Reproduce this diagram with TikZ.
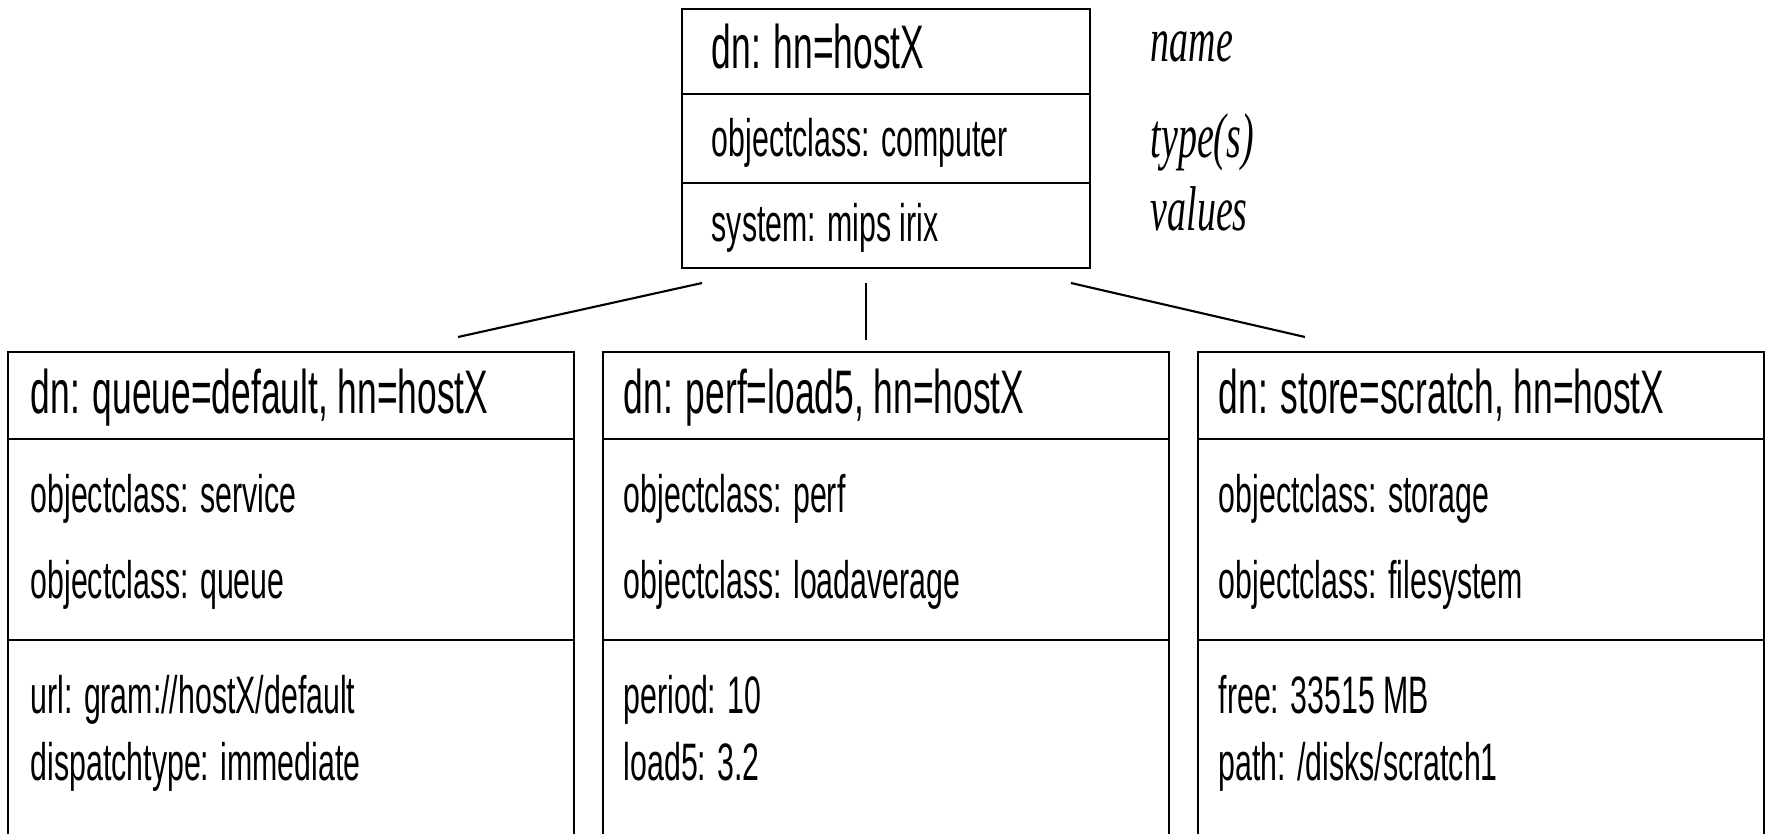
\documentclass[tikz,border=0pt]{standalone}
\usepackage{fontspec}
\usepackage{tikz}
\usetikzlibrary{positioning}
\newfontfamily\entryfont{Liberation Sans}[FakeStretch=0.575]
\newfontfamily\notefont{Liberation Serif}[FakeStretch=0.6]

\begin{document}
\begin{tikzpicture}
      \tikzset{
        cell/.style={rectangle, draw=black, line width=0.6pt, outer sep=0pt, inner sep=0pt, minimum width=5.66cm},
        hostcell/.style={cell, minimum width=4.08cm},
        dnline/.style={anchor=base west, inner sep=0pt, font=\entryfont\fontsize{17.5}{21}\selectfont},
        attrline/.style={anchor=base west, inner sep=0pt, font=\entryfont\fontsize{15}{18}\selectfont},
        note/.style={anchor=base west, inner sep=0pt, font=\notefont\itshape\fontsize{18}{21}\selectfont},
        link/.style={line width=0.6pt}
      }
      \useasboundingbox (0,0) rectangle (17.66,8.33);
      \clip (0,0) rectangle (17.66,8.33);

      % Host entry
      \node[hostcell, minimum height=0.85cm, anchor=north] (host-dn) at (8.86,8.24) {};
      \node[hostcell, minimum height=0.89cm, below=0pt of host-dn] (host-class) {};
      \node[hostcell, minimum height=0.85cm, below=0pt of host-class] (host-attr) {};

      % Child entries
      \node[cell, minimum height=0.87cm, below=0.84cm of host-attr] (perf-dn) {};
      \node[cell, minimum height=2.01cm, below=0pt of perf-dn] (perf-class) {};
      \node[cell, minimum height=2.2cm, below=0pt of perf-class] (perf-attr) {};

      \node[cell, minimum height=0.87cm, left=0.29cm of perf-dn] (queue-dn) {};
      \node[cell, minimum height=2.01cm, below=0pt of queue-dn] (queue-class) {};
      \node[cell, minimum height=2.2cm, below=0pt of queue-class] (queue-attr) {};

      \node[cell, minimum height=0.87cm, right=0.29cm of perf-dn] (store-dn) {};
      \node[cell, minimum height=2.01cm, below=0pt of store-dn] (store-class) {};
      \node[cell, minimum height=2.2cm, below=0pt of store-class] (store-attr) {};

      % Entry texts
      \node[dnline] (host-name) at ([xshift=2.9mm, yshift=-5.9mm]host-dn.north west) {dn: hn=hostX};
      \node[attrline] (host-oc) at ([xshift=2.9mm, yshift=-6.2mm]host-class.north west) {objectclass: computer};
      \node[attrline] (host-sys) at ([xshift=2.9mm, yshift=-5.8mm]host-attr.north west) {system: mips irix};

      \node[dnline] (queue-name) at ([xshift=2.2mm, yshift=-6.1mm]queue-dn.north west) {dn: queue=default, hn=hostX};
      \node[attrline] (queue-oc1) at ([xshift=2.2mm, yshift=-7.3mm]queue-class.north west) {objectclass: service};
      \node[attrline] (queue-oc2) at ([xshift=2.2mm, yshift=-15.9mm]queue-class.north west) {objectclass: queue};
      \node[attrline] (queue-url) at ([xshift=2.2mm, yshift=-7.3mm]queue-attr.north west) {url: gram://hostX/default};
      \node[attrline] (queue-disp) at ([xshift=2.2mm, yshift=-14mm]queue-attr.north west) {dispatchtype: immediate};

      \node[dnline] (perf-name) at ([xshift=2mm, yshift=-6.1mm]perf-dn.north west) {dn: perf=load5, hn=hostX};
      \node[attrline] (perf-oc1) at ([xshift=2mm, yshift=-7.3mm]perf-class.north west) {objectclass: perf};
      \node[attrline] (perf-oc2) at ([xshift=2mm, yshift=-15.9mm]perf-class.north west) {objectclass: loadaverage};
      \node[attrline] (perf-period) at ([xshift=2mm, yshift=-7.3mm]perf-attr.north west) {period: 10};
      \node[attrline] (perf-load) at ([xshift=2mm, yshift=-14mm]perf-attr.north west) {load5: 3.2};

      \node[dnline] (store-name) at ([xshift=2mm, yshift=-6.1mm]store-dn.north west) {dn: store=scratch, hn=hostX};
      \node[attrline] (store-oc1) at ([xshift=2mm, yshift=-7.3mm]store-class.north west) {objectclass: storage};
      \node[attrline] (store-oc2) at ([xshift=2mm, yshift=-15.9mm]store-class.north west) {objectclass: filesystem};
      \node[attrline] (store-free) at ([xshift=2mm, yshift=-7.3mm]store-attr.north west) {free: 33515 MB};
      \node[attrline] (store-path) at ([xshift=2mm, yshift=-14mm]store-attr.north west) {path: /disks/scratch1};

      % Row captions
      \node[note] (cap-name) at ([xshift=6mm, yshift=-5.2mm]host-dn.north east) {name};
      \node[note] (cap-type) at ([xshift=6mm, yshift=-6.3mm]host-class.north east) {type(s)};
      \node[note] (cap-val) at ([xshift=6mm, yshift=-4.7mm]host-attr.north east) {values};

      % Tree links
      \draw[link] ([xshift=2mm, yshift=-1.5mm]host-attr.south west) -- ([xshift=-11.6mm, yshift=1.5mm]queue-dn.north east);
      \draw[link] ([xshift=-2mm, yshift=-1.5mm]host-attr.south) -- ([xshift=-2mm, yshift=1.2mm]perf-dn.north);
      \draw[link] ([xshift=-1.9mm, yshift=-1.5mm]host-attr.south east) -- ([xshift=10.7mm, yshift=1.5mm]store-dn.north west);

    \end{tikzpicture}
\end{document}
